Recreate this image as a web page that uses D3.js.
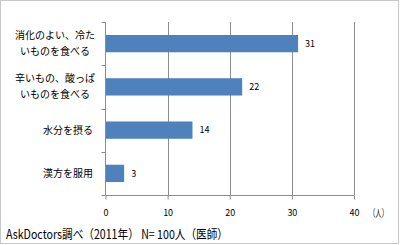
<!DOCTYPE html>
<html><head><meta charset="utf-8">
<script src="https://cdn.jsdelivr.net/npm/d3@7"></script>
<style>
body{margin:0;background:#fff;}
svg{display:block;}
text{font-family:"Noto Sans CJK JP","Noto Sans",sans-serif;fill:#000;}
</style></head><body>
<svg id="c" width="400" height="245"></svg>
<script>
const categories = [["消化のよい、冷た","いものを食べる"],["辛いもの、酸っぱ","いものを食べる"],["水分を摂る"],["漢方を服用"]];
const values = [31,22,14,3];
const xTicks = [0,10,20,30,40];
const unitLabel = "（人）";
const footer = "AskDoctors調べ（2011年） N= 100人（医師）";

const svg = d3.select("#c");
svg.append("rect").attr("x",0.5).attr("y",0.5).attr("width",398).attr("height",243)
  .attr("fill","#fff").attr("stroke","#c8c8c8");

const x = d3.scaleLinear().domain([0,40]).range([105.5,354]);
const y = d3.scaleBand().domain(d3.range(categories.length)).range([22,195]).paddingInner(0.6).paddingOuter(0.3);

// gridlines
svg.append("g").selectAll("line").data(xTicks.slice(1)).join("line")
  .attr("x1",d=>Math.round(x(d))+0.5).attr("x2",d=>Math.round(x(d))+0.5)
  .attr("y1",22).attr("y2",195).attr("stroke","#8c8c8c").attr("stroke-width",1);

// bars
svg.append("g").selectAll("rect").data(values).join("rect")
  .attr("x",x(0)).attr("y",(d,i)=>y(i)).attr("width",d=>x(d)-x(0)).attr("height",y.bandwidth())
  .attr("fill","#4f81bd");

// value labels
svg.append("g").selectAll("text").data(values).join("text")
  .attr("x",d=>x(d)+7).attr("y",(d,i)=>y(i)+y.bandwidth()/2).attr("dy","0.35em")
  .attr("font-size",9).text(d=>d);

// x axis
const xAxis = d3.axisBottom(x).tickValues(xTicks).tickSize(4).tickPadding(10);
const gx = svg.append("g").attr("transform","translate(0,195.5)").call(xAxis);
gx.select(".domain").attr("stroke","#8c8c8c").attr("d",`M${x(0)},0H${x(40)+0.5}`);
gx.selectAll(".tick line").attr("stroke","#8c8c8c");
gx.selectAll(".tick text").attr("font-size",9).attr("font-family","'Noto Sans CJK JP',sans-serif").attr("fill","#000");

// y axis line + ticks
const yl = svg.append("g");
yl.append("line").attr("x1",105.5).attr("x2",105.5).attr("y1",22).attr("y2",195).attr("stroke","#8c8c8c");
const bounds = [0,1,2,3,4].map(i=>22+i*(173/4));
yl.selectAll("line.t").data(bounds).join("line").attr("class","t")
  .attr("x1",101.5).attr("x2",105.5).attr("y1",d=>Math.round(d)+0.5).attr("y2",d=>Math.round(d)+0.5).attr("stroke","#8c8c8c");

// category labels
const cg = svg.append("g");
categories.forEach((lines,i)=>{
  const cy = y(i)+y.bandwidth()/2;
  if(lines.length===1){
    cg.append("text").attr("x",93).attr("y",cy).attr("dy","0.35em").attr("text-anchor","end")
      .attr("font-size",10).text(lines[0]);
  } else {
    const t = cg.append("text").attr("font-size",10).attr("text-anchor","middle").attr("x",55);
    lines.forEach((l,k)=>{
      t.append("tspan").attr("x",55).attr("y",cy+(k===0?-8.5:7.5)).attr("dy","0.35em").text(l);
    });
  }
});

// unit label
svg.append("text").attr("x",369).attr("y",213).attr("dy","0.35em").attr("font-size",10)
  .attr("textLength",19).attr("lengthAdjust","spacingAndGlyphs").text(unitLabel);

// footer
svg.append("text").attr("x",6).attr("y",238.5).attr("font-size",12.5)
  .attr("textLength",222).attr("lengthAdjust","spacingAndGlyphs").text(footer);
</script>
</body></html>
